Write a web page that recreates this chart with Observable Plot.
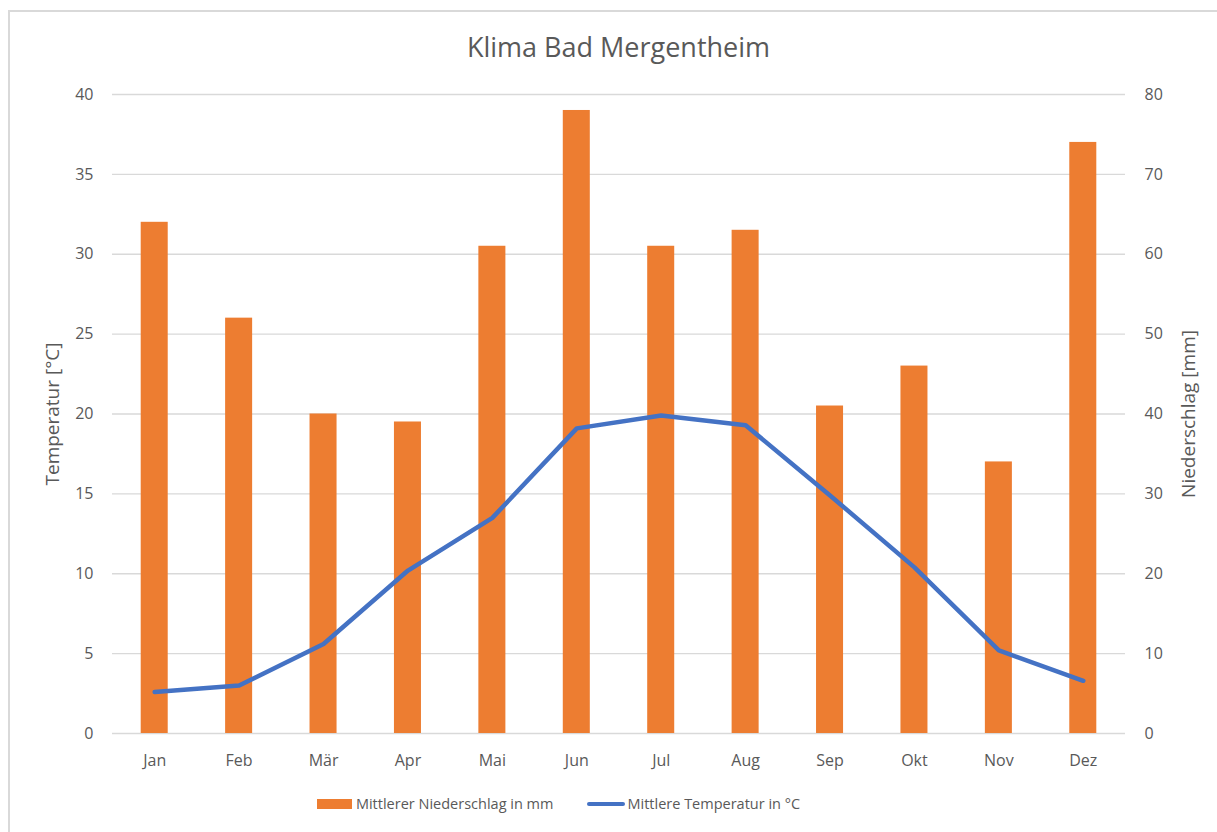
<!DOCTYPE html>
<html>
<head>
<meta charset="utf-8">
<script src="https://cdn.jsdelivr.net/npm/d3@7"></script>
<script src="https://cdn.jsdelivr.net/npm/@observablehq/plot@0.6"></script>
<style>
  html, body { margin: 0; padding: 0; background: #fff; }
  #wrap { position: relative; width: 1217px; height: 832px; overflow: hidden; font-family: "Open Sans", sans-serif; color: #595959; }
  #frame { position: absolute; left: 8px; top: 10px; width: 1300px; height: 900px; border-top: 2px solid #d9d9d9; border-left: 2px solid #d9d9d9; }
  #title { position: absolute; left: 0; width: 1237px; top: 28px; text-align: center; font-size: 27px; color: #595959; }
  #chart { position: absolute; left: 0; top: 70px; }
  #legend { position: absolute; top: 794px; left: 0; width: 1117px; display: flex; justify-content: center; align-items: center; font-size: 14.5px; color: #595959; }
  .item { display: flex; align-items: center; margin: 0 17px; }
  .sw-bar { width: 35px; height: 10px; background: #ED7D31; margin-right: 4px; }
  .sw-line { width: 38px; height: 4px; border-radius: 2px; background: #4472C4; margin-right: 2px; }
</style>
</head>
<body>
<div id="wrap">
  <div id="frame"></div>
  <div id="title">Klima Bad Mergentheim</div>
  <div id="chart"></div>
  <div id="legend">
    <div class="item"><div class="sw-bar"></div><span>Mittlerer Niederschlag in mm</span></div>
    <div class="item"><div class="sw-line"></div><span>Mittlere Temperatur in °C</span></div>
  </div>
</div>
<script>
const months = ["Jan", "Feb", "Mär", "Apr", "Mai", "Jun", "Jul", "Aug", "Sep", "Okt", "Nov", "Dez"];
const precipitation = [64, 52, 40, 39, 61, 78, 61, 63, 41, 46, 34, 74];
const temperature = [2.6, 3.0, 5.6, 10.2, 13.5, 19.1, 19.9, 19.3, 14.9, 10.4, 5.2, 3.3];
const tempTicks = [0, 5, 10, 15, 20, 25, 30, 35, 40];

const data = months.map((m, i) => ({month: m, precip: precipitation[i], temp: temperature[i]}));
const precipScale = 2; // right axis 0–80 mm maps onto left axis 0–40 °C

const chart = Plot.plot({
  width: 1217,
  height: 720,
  marginLeft: 112,
  marginRight: 92,
  marginTop: 24,
  marginBottom: 57,
  style: {fontFamily: "'Open Sans', sans-serif", fontSize: "16px", color: "#595959", background: "transparent"},
  x: {domain: months, padding: 0, round: false, label: null},
  y: {domain: [0, 40], label: null},
  marks: [
    Plot.gridY(tempTicks, {stroke: "#d9d9d9", strokeOpacity: 1, strokeWidth: 1.3}),
    Plot.barY(data, {x: "month", y: d => d.precip / precipScale, fill: "#ED7D31", insetLeft: 28.7, insetRight: 28.7}),
    Plot.line(data, {x: "month", y: "temp", stroke: "#4472C4", strokeWidth: 4.5, strokeLinejoin: "round", strokeLinecap: "round"}),
    Plot.axisX({tickSize: 0, tickPadding: 21, label: null, fill: "#595959", fontSize: 16}),
    Plot.axisY({anchor: "left", ticks: tempTicks, tickSize: 0, tickPadding: 19, label: null, fill: "#595959", fontSize: 16}),
    Plot.axisY({anchor: "right", ticks: tempTicks, tickFormat: d => d * precipScale, tickSize: 0, tickPadding: 19, label: null, fill: "#595959", fontSize: 16}),
    Plot.text(["Temperatur [°C]"], {frameAnchor: "left", dx: -60, rotate: -90, textAnchor: "middle", fill: "#595959", fontSize: 19}),
    Plot.text(["Niederschlag [mm]"], {frameAnchor: "right", dx: 63, rotate: -90, textAnchor: "middle", fill: "#595959", fontSize: 19})
  ]
});
document.getElementById("chart").appendChild(chart);
</script>
</body>
</html>
